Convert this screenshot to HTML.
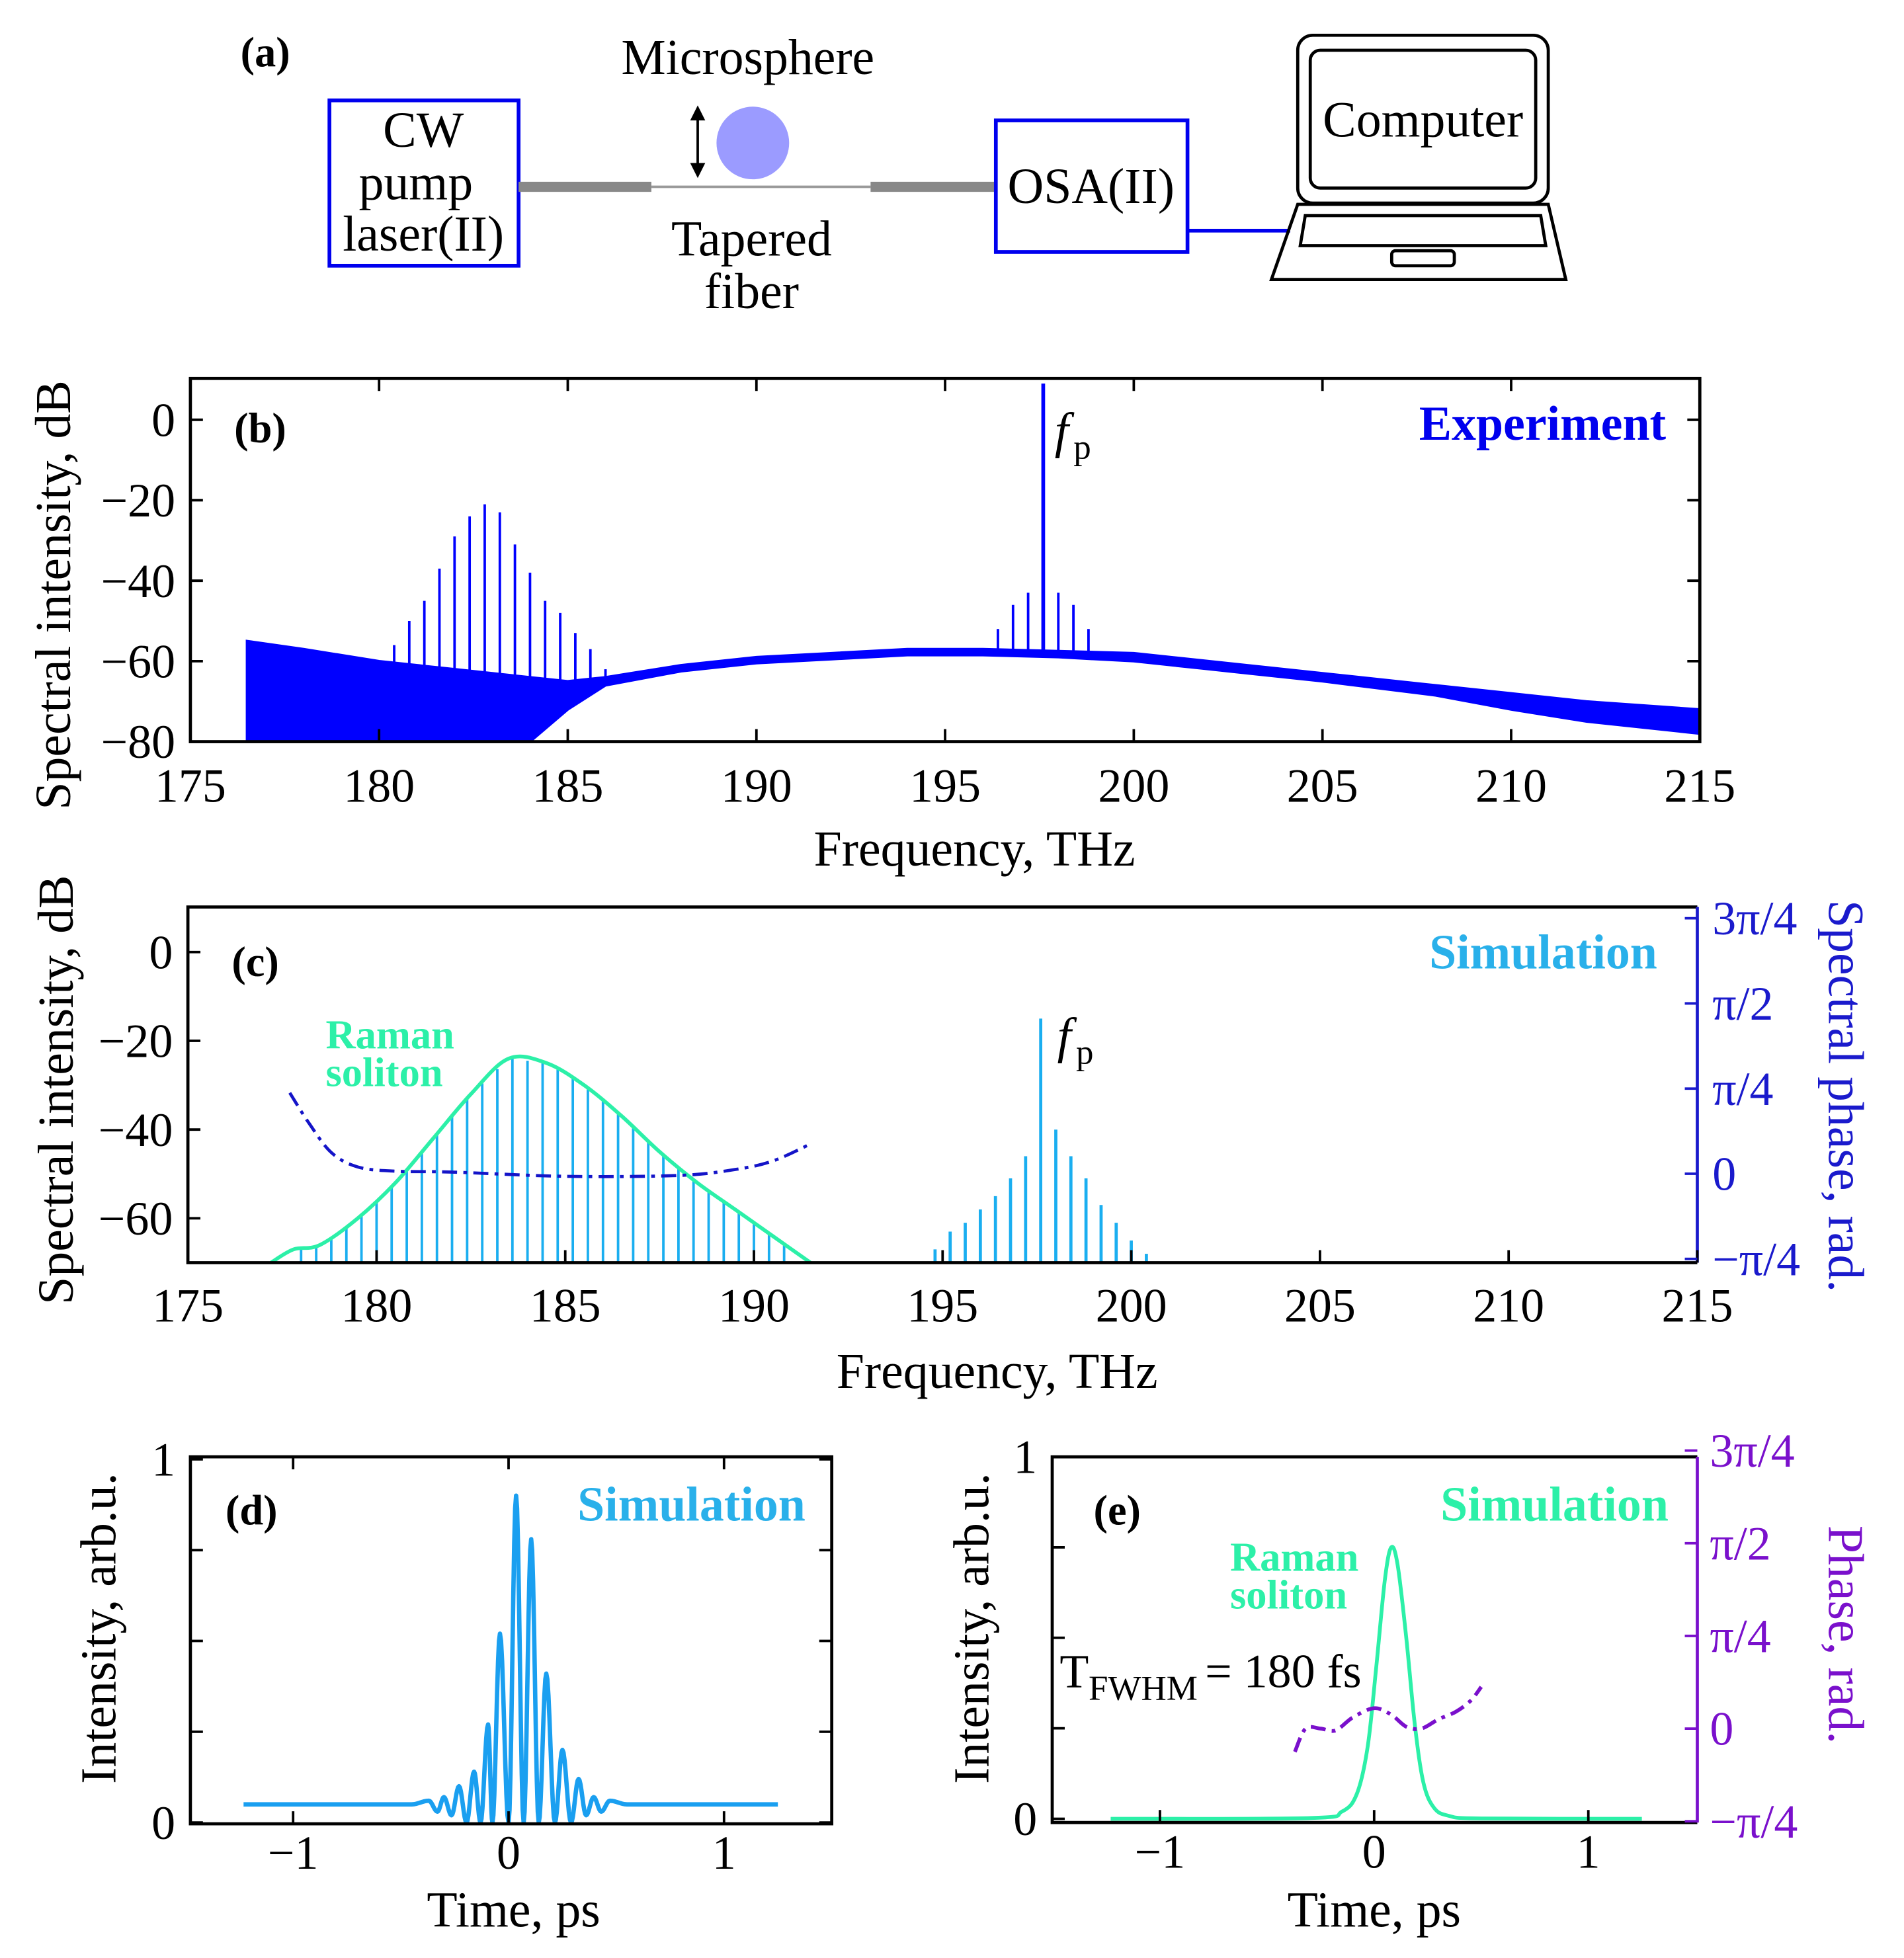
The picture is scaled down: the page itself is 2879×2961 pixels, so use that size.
<!DOCTYPE html>
<html><head><meta charset="utf-8"><style>
html,body{margin:0;padding:0;background:#fff}
svg{display:block}
text{font-family:"Liberation Serif",serif}
</style></head><body>
<svg id="fig" xmlns="http://www.w3.org/2000/svg" width="2879" height="2961" viewBox="0 0 1520 1563">
<rect x="0" y="0" width="1520" height="1563" fill="#fff"/>
<g id="schem">
<text x="192" y="53" font-size="34" font-weight="bold">(a)</text>
<rect x="263" y="80" width="151" height="132" fill="none" stroke="#0000ee" stroke-width="3"/>
<text x="338" y="117" font-size="40" text-anchor="middle">CW</text>
<text x="332" y="159" font-size="40" text-anchor="middle">pump</text>
<text x="338" y="200" font-size="40" text-anchor="middle">laser(II)</text>
<line x1="414" y1="149" x2="520" y2="149" stroke="#888" stroke-width="8"/>
<line x1="520" y1="149" x2="695" y2="149" stroke="#999" stroke-width="2"/>
<line x1="695" y1="149" x2="795" y2="149" stroke="#888" stroke-width="8"/>
<circle cx="601" cy="114" r="29" fill="#9b9bff"/>
<g><line x1="557" y1="90" x2="557" y2="136" stroke="#000" stroke-width="2"/><path d="M551 96 L557 84 L563 96Z M551 130 L557 142 L563 130Z" fill="#000"/></g>
<text x="597" y="59" font-size="40" text-anchor="middle">Microsphere</text>
<text x="600" y="204" font-size="40" text-anchor="middle">Tapered</text>
<text x="600" y="246" font-size="40" text-anchor="middle">fiber</text>
<rect x="795" y="96" width="153" height="105" fill="none" stroke="#0000ee" stroke-width="3"/>
<text x="871" y="162" font-size="40" text-anchor="middle">OSA(II)</text>
<line x1="948" y1="184" x2="1030" y2="184" stroke="#0000ee" stroke-width="3"/>
<g fill="none" stroke="#000" stroke-width="2.5">
<rect x="1036" y="28" width="200" height="134" rx="12"/>
<rect x="1046" y="40" width="180" height="110" rx="8"/>
<path d="M1036 163 L1236 163 L1250 223 L1015 223 Z"/>
<path d="M1042 172 L1230 172 L1234 196 L1038 196 Z"/>
<rect x="1111" y="200" width="50" height="12" rx="3"/>
</g>
<text x="1136" y="109" font-size="40" text-anchor="middle">Computer</text>
</g>
<g id="b"></g><g id="c"></g><g id="d"></g><g id="e"></g>
</svg>
<script>
// ---------- data ----------
const bRamanF=[180.4,180.8,181.2,181.6,182.0,182.4,182.8,183.2,183.6,184.0,184.4,184.8,185.2,185.6,186.0];
const bRamanDb=[-56,-50,-45,-37,-29,-24,-21,-23,-31,-38,-45,-48,-53,-57,-62];
const bPumpF=[196.0,196.4,196.8,197.2,197.6,198.0,198.4,198.8,199.2];
const bPumpDb=[-58,-52,-46,-43,9,-43,-46,-52,-58];
const bFloorF=[176.5,178,180,182,184,185,186,188,190,192,194,196,198,200,202,205,208,210,212,215];
const bFloorTop=[-55,-57,-60,-62,-64,-65,-64,-61,-59,-58,-57,-57,-57.5,-58,-60,-63,-66,-68,-70,-72];
const bFloorBot=[-80,-80,-80,-80,-80,-72,-66,-62.5,-60.5,-59.5,-58.5,-58.5,-59,-60,-62,-65,-68.5,-72,-75,-78];
const cEnvF=[177.2,177.8,178.5,179.5,180.5,181.5,182.5,183.5,184.5,185.5,186.5,187.5,188.5,189.5,190.5,191.5];
const cEnvDb=[-70,-67,-66,-60,-52,-42,-32,-24,-25,-30,-37,-45,-52,-58,-64,-70];
const cPumpF=[194.4,194.8,195.2,195.6,196.0,196.4,196.8,197.2,197.6,198.0,198.4,198.8,199.2,199.6,200.0,200.4,200.8];
const cPumpDb=[-70,-67,-63,-61,-58,-55,-51,-46,-15,-40,-46,-51,-57,-61,-65,-68,-70];
const cPhaseF=[177.7,178.2,178.8,179.5,180.5,182,185,188,189.5,190.5,191.5];
const cPhase=[0.95,0.6,0.25,0.08,0.03,0.02,-0.03,-0.02,0.05,0.15,0.35];
const dExtT=[-1.23,-0.45,-0.37,-0.33,-0.30,-0.265,-0.23,-0.195,-0.16,-0.13,-0.095,-0.075,-0.04,0.0,0.035,0.07,0.105,0.14,0.175,0.215,0.25,0.29,0.325,0.36,0.395,0.43,0.47,0.55,1.25];
const dExtI=[0.05,0.05,0.06,0.03,0.07,0.02,0.1,0.0,0.14,0.0,0.27,0.0,0.52,0.0,0.9,0.0,0.78,0.0,0.41,0.0,0.2,0.0,0.12,0.02,0.07,0.03,0.06,0.05,0.05];
const eT=[-1.23,-0.3,-0.15,-0.08,-0.03,0.01,0.05,0.08,0.11,0.15,0.19,0.23,0.28,0.35,0.5,1.25];
const eI=[0,0.002,0.02,0.07,0.2,0.42,0.66,0.75,0.7,0.5,0.26,0.1,0.03,0.008,0.001,0];
const ePhT=[-0.37,-0.32,-0.25,-0.18,-0.1,0.0,0.08,0.15,0.22,0.3,0.38,0.45,0.5];
const ePh=[-0.25,0.0,0.0,-0.02,0.12,0.22,0.15,0.02,0.0,0.1,0.18,0.3,0.45];
const piTicks=["\u2212\u03c0/4","0","\u03c0/4","\u03c0/2","3\u03c0/4"];
const freqTicks=[175,180,185,190,195,200,205,210,215];

// ---------- helpers ----------
const NS="http://www.w3.org/2000/svg";
function mk(parent,tag,attrs,txt){const e=document.createElementNS(NS,tag);for(const k in attrs)e.setAttribute(k,attrs[k]);if(txt!==undefined)e.textContent=txt;parent.appendChild(e);return e;}
function lin(d0,d1,r0,r1){return v=>r0+(v-d0)*(r1-r0)/(d1-d0);}
function smoothPath(pts){let d="M"+pts[0][0]+" "+pts[0][1];for(let i=0;i<pts.length-1;i++){const p0=pts[Math.max(0,i-1)],p1=pts[i],p2=pts[i+1],p3=pts[Math.min(pts.length-1,i+2)];const c1=[p1[0]+(p2[0]-p0[0])/6,p1[1]+(p2[1]-p0[1])/6],c2=[p2[0]-(p3[0]-p1[0])/6,p2[1]-(p3[1]-p1[1])/6];d+=" C"+c1[0]+" "+c1[1]+" "+c2[0]+" "+c2[1]+" "+p2[0]+" "+p2[1];}return d;}
function interp(xs,ys,x){for(let i=0;i<xs.length-1;i++){if(x>=xs[i]&&x<=xs[i+1]){return ys[i]+(ys[i+1]-ys[i])*(x-xs[i])/(xs[i+1]-xs[i]);}}return ys[ys.length-1];}

// ---------- panel b ----------
(function(){
const g=document.getElementById('b');


const L=152,R=1357,T=302,B=592;
const x=lin(175,215,L,R), y=lin(0,-80,335,592);
let pts=[];bFloorF.forEach((f,i)=>pts.push(x(f)+","+y(bFloorTop[i])));
for(let i=bFloorF.length-1;i>=0;i--)pts.push(x(bFloorF[i])+","+y(bFloorBot[i]));
const band=mk(g,'polygon',{points:pts.join(" "),fill:"#0000ff",stroke:"#0000ff","stroke-width":2});


bRamanF.forEach((f,i)=>{const l=mk(g,'line',{x1:x(f),x2:x(f),y1:y(bRamanDb[i]),y2:y(interp(bFloorF,bFloorTop,f)),stroke:"#0000ff","stroke-width":2});

});
bPumpF.forEach((f,i)=>{const l=mk(g,'line',{x1:x(f),x2:x(f),y1:y(bPumpDb[i]),y2:y(interp(bFloorF,bFloorTop,f)),stroke:"#0000ff","stroke-width":i==4?3:2});

});
const fr=mk(g,'rect',{x:L,y:T,width:R-L,height:B-T,fill:"none",stroke:"#000","stroke-width":2.5});


freqTicks.forEach(v=>{mk(g,'line',{x1:x(v),x2:x(v),y1:B,y2:B-10,stroke:"#000","stroke-width":2});mk(g,'line',{x1:x(v),x2:x(v),y1:T,y2:T+10,stroke:"#000","stroke-width":2});
const t=mk(g,'text',{x:x(v),y:B+48,"font-size":38,"text-anchor":"middle"},v);

});
[0,-20,-40,-60,-80].forEach(v=>{mk(g,'line',{x1:L,x2:L+10,y1:y(v),y2:y(v),stroke:"#000","stroke-width":2});mk(g,'line',{x1:R,x2:R-10,y1:y(v),y2:y(v),stroke:"#000","stroke-width":2});
const t=mk(g,'text',{x:L-12,y:y(v)+13,"font-size":38,"text-anchor":"end"},v<0?"\u2212"+(-v):v);

});
let t=mk(g,'text',{x:778,y:691,"font-size":40,"text-anchor":"middle"},"Frequency, THz");


t=mk(g,'text',{x:0,y:0,"font-size":40,"text-anchor":"middle",transform:"translate(56,475) rotate(-90)"},"Spectral intensity, dB");


t=mk(g,'text',{x:187,y:353,"font-size":34,"font-weight":"bold"},"(b)");


t=mk(g,'text',{x:1330,y:351,"font-size":39,"font-weight":"bold","text-anchor":"end",fill:"#0000ee"},"Experiment");


t=mk(g,'text',{x:842,y:357,"font-size":40,"font-style":"italic"},"f");


mk(g,'text',{x:857,y:366,"font-size":28},"p");
})();

// ---------- panel c ----------
(function(){
const g=document.getElementById('c');


const L=150,R=1355,T=724,B=1008;
const x=lin(175,215,L,R), y=lin(0,-70,760,1008), yp=lin(0,1,937,869);
const lc="#1aaef0";
for(let f=178;f<=191.2;f+=0.4){const v=interp(cEnvF,cEnvDb,f);const l=mk(g,'line',{x1:x(f),x2:x(f),y1:y(v),y2:B,stroke:lc,"stroke-width":2});

}
cPumpF.forEach((f,i)=>{const l=mk(g,'line',{x1:x(f),x2:x(f),y1:y(cPumpDb[i]),y2:B,stroke:lc,"stroke-width":2.5});

});
let p=mk(g,'path',{d:smoothPath(cEnvF.map((f,i)=>[x(f),y(cEnvDb[i])])),fill:"none",stroke:"#2cf0a8","stroke-width":3});


p=mk(g,'path',{d:smoothPath(cPhaseF.map((f,i)=>[x(f),yp(cPhase[i])])),fill:"none",stroke:"#1414c8","stroke-width":2.5,"stroke-dasharray":"12 5 3 5"});


const fr=mk(g,'path',{d:`M${R} ${T} L${L} ${T} L${L} ${B} L${R} ${B}`,fill:"none",stroke:"#000","stroke-width":2.5});


const ra=mk(g,'line',{x1:R,x2:R,y1:T,y2:B,stroke:"#1a1acc","stroke-width":2.5});


freqTicks.forEach(v=>{mk(g,'line',{x1:x(v),x2:x(v),y1:B,y2:B-10,stroke:"#000","stroke-width":2});
const t=mk(g,'text',{x:x(v),y:B+47,"font-size":38,"text-anchor":"middle"},v);

});
[0,-20,-40,-60].forEach(v=>{mk(g,'line',{x1:L,x2:L+10,y1:y(v),y2:y(v),stroke:"#000","stroke-width":2});
const t=mk(g,'text',{x:L-12,y:y(v)+13,"font-size":38,"text-anchor":"end"},v<0?"\u2212"+(-v):v);

});
piTicks.forEach((s,i)=>{const v=i-1;mk(g,'line',{x1:R,x2:R-10,y1:yp(v),y2:yp(v),stroke:"#1a1acc","stroke-width":2});
const t=mk(g,'text',{x:R+12,y:yp(v)+13,"font-size":38,fill:"#1a1acc"},s);

});
let t=mk(g,'text',{x:796,y:1108,"font-size":40,"text-anchor":"middle"},"Frequency, THz");


t=mk(g,'text',{x:0,y:0,"font-size":40,"text-anchor":"middle",transform:"translate(58,870) rotate(-90)"},"Spectral intensity, dB");


t=mk(g,'text',{x:0,y:0,"font-size":40,"text-anchor":"middle",fill:"#1a1acc",transform:"translate(1460,875) rotate(90)"},"Spectral phase, rad.");


t=mk(g,'text',{x:185,y:779,"font-size":34,"font-weight":"bold"},"(c)");


t=mk(g,'text',{x:1323,y:773,"font-size":39,"font-weight":"bold","text-anchor":"end",fill:"#29b0ea"},"Simulation");


t=mk(g,'text',{x:260,y:837,"font-size":33,"font-weight":"bold",fill:"#2cf0a8"},"Raman");


mk(g,'text',{x:260,y:867,"font-size":33,"font-weight":"bold",fill:"#2cf0a8"},"soliton");
t=mk(g,'text',{x:844,y:840,"font-size":40,"font-style":"italic"},"f");


mk(g,'text',{x:859,y:849,"font-size":28},"p");
})();

// ---------- panel d ----------
(function(){
const g=document.getElementById('d');


const L=152,R=664,T=1163,B=1456;
const x=lin(0,1,406,578), y=lin(0,1,1455,1165);
let d="M"+x(dExtT[0])+" "+y(dExtI[0]);
for(let i=0;i<dExtT.length-1;i++){for(let k=1;k<=8;k++){const s=k/8;const tt=dExtT[i]+(dExtT[i+1]-dExtT[i])*s;const w=(1-Math.cos(Math.PI*s))/2;const v=dExtI[i]+(dExtI[i+1]-dExtI[i])*w;d+=" L"+x(tt).toFixed(2)+" "+y(v).toFixed(2);}}
const p=mk(g,'path',{d:d,fill:"none",stroke:"#1a9ff0","stroke-width":3.5,"stroke-linejoin":"round"});


const fr=mk(g,'rect',{x:L,y:T,width:R-L,height:B-T,fill:"none",stroke:"#000","stroke-width":2.5});


[-1,0,1].forEach(v=>{mk(g,'line',{x1:x(v),x2:x(v),y1:B,y2:B-10,stroke:"#000","stroke-width":2});mk(g,'line',{x1:x(v),x2:x(v),y1:T,y2:T+10,stroke:"#000","stroke-width":2});
const t=mk(g,'text',{x:x(v),y:B+36,"font-size":38,"text-anchor":"middle"},v<0?"\u22121":v);

});
[0,0.25,0.5,0.75,1].forEach(v=>{mk(g,'line',{x1:L,x2:L+10,y1:y(v),y2:y(v),stroke:"#000","stroke-width":2});mk(g,'line',{x1:R,x2:R-10,y1:y(v),y2:y(v),stroke:"#000","stroke-width":2});});
[0,1].forEach(v=>{const t=mk(g,'text',{x:L-12,y:y(v)+13,"font-size":38,"text-anchor":"end"},v);

});
let t=mk(g,'text',{x:410,y:1538,"font-size":40,"text-anchor":"middle"},"Time, ps");


t=mk(g,'text',{x:0,y:0,"font-size":40,"text-anchor":"middle",transform:"translate(92,1300) rotate(-90)"},"Intensity, arb.u.");


t=mk(g,'text',{x:180,y:1217,"font-size":34,"font-weight":"bold"},"(d)");


t=mk(g,'text',{x:643,y:1214,"font-size":39,"font-weight":"bold","text-anchor":"end",fill:"#29b0ea"},"Simulation");


})();

// ---------- panel e ----------
(function(){
const g=document.getElementById('e');


const L=840,R=1355,T=1163,B=1455;
const x=lin(0,1,1097,1268), y=lin(0,1,1452,1163), yp=lin(0,1,1380,1306);
let p=mk(g,'path',{d:smoothPath(eT.map((t,i)=>[x(t),y(eI[i])])),fill:"none",stroke:"#2cf0a8","stroke-width":3});


p=mk(g,'path',{d:smoothPath(ePhT.map((t,i)=>[x(t),yp(ePh[i])])),fill:"none",stroke:"#7a10cc","stroke-width":3,"stroke-dasharray":"12 5 3 5"});


const fr=mk(g,'path',{d:`M${R} ${T} L${L} ${T} L${L} ${B} L${R} ${B}`,fill:"none",stroke:"#000","stroke-width":2.5});


const ra=mk(g,'line',{x1:R,x2:R,y1:T,y2:B,stroke:"#7a10cc","stroke-width":2.5});


[-1,0,1].forEach(v=>{mk(g,'line',{x1:x(v),x2:x(v),y1:B,y2:B-10,stroke:"#000","stroke-width":2});
const t=mk(g,'text',{x:x(v),y:B+36,"font-size":38,"text-anchor":"middle"},v<0?"\u22121":v);

});
[0,0.25,0.5,0.75,1].forEach(v=>{mk(g,'line',{x1:L,x2:L+10,y1:y(v),y2:y(v),stroke:"#000","stroke-width":2});});
[0,1].forEach(v=>{const t=mk(g,'text',{x:L-12,y:y(v)+13,"font-size":38,"text-anchor":"end"},v);

});
piTicks.forEach((s,i)=>{const v=i-1;mk(g,'line',{x1:R,x2:R-10,y1:yp(v),y2:yp(v),stroke:"#7a10cc","stroke-width":2});
const t=mk(g,'text',{x:R+10,y:yp(v)+13,"font-size":38,fill:"#7a10cc"},s);

});
let t=mk(g,'text',{x:1097,y:1538,"font-size":40,"text-anchor":"middle"},"Time, ps");


t=mk(g,'text',{x:0,y:0,"font-size":40,"text-anchor":"middle",transform:"translate(789,1300) rotate(-90)"},"Intensity, arb.u.");


t=mk(g,'text',{x:0,y:0,"font-size":40,"text-anchor":"middle",fill:"#7a10cc",transform:"translate(1460,1305) rotate(90)"},"Phase, rad.");


t=mk(g,'text',{x:873,y:1217,"font-size":34,"font-weight":"bold"},"(e)");


t=mk(g,'text',{x:1332,y:1214,"font-size":39,"font-weight":"bold","text-anchor":"end",fill:"#2cf0a8"},"Simulation");


t=mk(g,'text',{x:982,y:1254,"font-size":33,"font-weight":"bold",fill:"#2cf0a8"},"Raman");


mk(g,'text',{x:982,y:1284,"font-size":33,"font-weight":"bold",fill:"#2cf0a8"},"soliton");
t=mk(g,'text',{x:846,y:1347,"font-size":38},"T");


mk(g,'text',{x:869,y:1357,"font-size":28},"FWHM");
mk(g,'text',{x:962,y:1347,"font-size":38},"= 180 fs");
})();
</script>
</body></html>
